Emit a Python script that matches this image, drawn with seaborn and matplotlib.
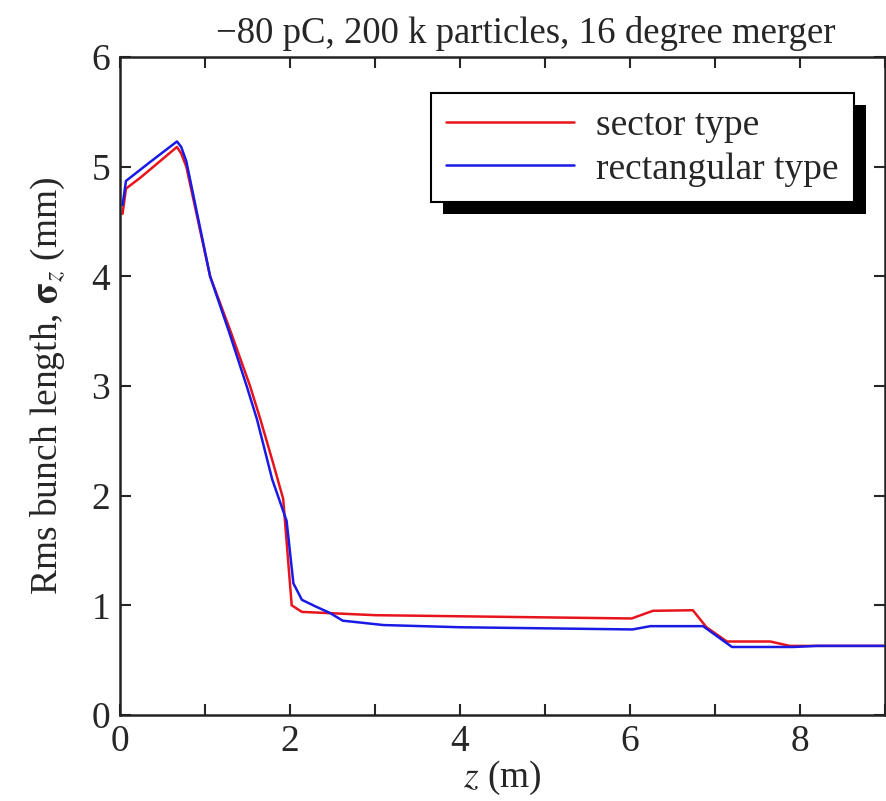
import matplotlib
matplotlib.use("Agg")
import matplotlib.pyplot as plt
import seaborn as sns
from matplotlib.patches import Rectangle
from matplotlib.ticker import MultipleLocator

# bunch length along z
z_sector = [0.03, 0.07, 0.24, 0.67, 0.72, 0.78, 1.06, 1.3, 1.53, 1.65, 1.8,
            1.92, 2.02, 2.14, 3.0, 4.0, 5.0, 6.02, 6.27, 6.74, 6.9, 7.14,
            7.65, 7.88, 8.04, 9.0]
sigma_sector = [4.57, 4.8, 4.9, 5.18, 5.12, 5.0, 4.0, 3.5, 3.0, 2.7, 2.3,
                1.97, 1.0, 0.94, 0.91, 0.90, 0.89, 0.88, 0.95, 0.955, 0.8,
                0.67, 0.67, 0.63, 0.63, 0.63]

z_rect = [0.03, 0.07, 0.35, 0.67, 0.72, 0.78, 1.06, 1.28, 1.49, 1.61, 1.79,
          1.96, 2.04, 2.14, 2.3, 2.47, 2.62, 3.1, 4.0, 5.0, 6.03, 6.24, 6.86,
          7.2, 7.92, 8.2, 9.0]
sigma_rect = [4.65, 4.87, 5.04, 5.23, 5.18, 5.05, 4.0, 3.5, 3.0, 2.7, 2.15,
              1.77, 1.2, 1.05, 0.99, 0.93, 0.86, 0.82, 0.80, 0.79, 0.78, 0.81,
              0.81, 0.62, 0.62, 0.63, 0.63]

labels = ["sector type", "rectangular type"]

sns.set_style("ticks")
plt.rcParams["font.family"] = ["Liberation Serif", "DejaVu Serif"]
plt.rcParams["mathtext.fontset"] = "stix"

fig = plt.figure(figsize=(8.87, 8.01), dpi=100)
ax = fig.add_axes([0.1353, 0.1074, 0.8624, 0.8214])

sns.lineplot(x=z_sector, y=sigma_sector, color="#e8141c", lw=1.8,
             label=labels[0], ax=ax, sort=False)
sns.lineplot(x=z_rect, y=sigma_rect, color="#1a1ae6", lw=1.8,
             label=labels[1], ax=ax, sort=False)

ax.set_xlim(0, 9)
ax.set_ylim(0, 6)
ax.xaxis.set_major_locator(MultipleLocator(2))
ax.xaxis.set_minor_locator(MultipleLocator(1))
ax.yaxis.set_major_locator(MultipleLocator(1))
ax.tick_params(which="both", direction="in", top=True, right=True,
               labelsize=27, width=1.5, pad=7)
ax.tick_params(which="both", length=8)
for s in ax.spines.values():
    s.set_linewidth(1.8)
    s.set_color("#222222")

ax.set_xlabel("$z$ (m)", fontsize=27, labelpad=0)
ax.set_ylabel(r"Rms bunch length, $\mathbf{\sigma}_z$ (mm)", fontsize=27,
              labelpad=18)
ax.set_title("\u221280 pC, 200 k particles, 16 degree merger", fontsize=26.5,
             x=0.53, pad=10)

leg = ax.legend(loc="upper right", bbox_to_anchor=(0.959, 0.945),
                borderaxespad=0, fontsize=27, frameon=True, fancybox=False,
                handlelength=3.4, handletextpad=0.6, labelspacing=0.25,
                borderpad=0.4)
leg.get_frame().set_edgecolor("black")
leg.get_frame().set_linewidth(1.5)
leg.get_frame().set_alpha(1)

# black drop shadow behind the legend box
fig.canvas.draw()
bb = leg.get_window_extent()
shadow = Rectangle((bb.x0 + 12, bb.y0 - 12), bb.width, bb.height,
                   transform=None, facecolor="black", edgecolor="none",
                   zorder=4.9)
ax.add_artist(shadow)

fig.savefig("out.png", dpi=100)
